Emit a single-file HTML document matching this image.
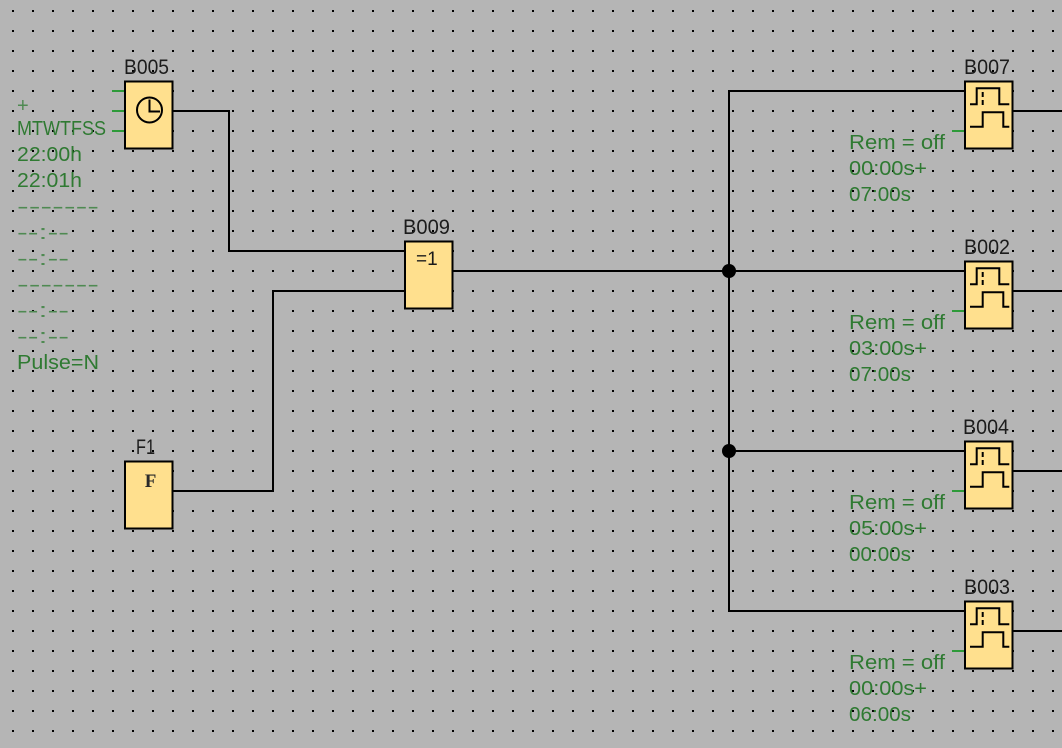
<!DOCTYPE html>
<html>
<head>
<meta charset="utf-8">
<style>
  html, body { margin: 0; padding: 0; background: #b5b5b5; }
  svg { display: block; }
  .g { font-family: "Liberation Sans", sans-serif; font-size: 20px; fill: #2f7a32; }
  .gl { font-family: "Liberation Sans", sans-serif; font-size: 20px; fill: #4f8a52; }
  .lb { font-family: "Liberation Sans", sans-serif; font-size: 21px; fill: #1c1c1c; }
</style>
</head>
<body>
<svg width="1062" height="748" viewBox="0 0 1062 748" xmlns="http://www.w3.org/2000/svg">
  <defs>
    <pattern id="grid" x="12" y="10" width="20" height="20" patternUnits="userSpaceOnUse">
      <rect x="0" y="0" width="2" height="2" fill="#000"/>
    </pattern>
  </defs>
  <rect x="0" y="0" width="1062" height="748" fill="#b5b5b5"/>
  <rect x="0" y="0" width="1062" height="748" fill="url(#grid)"/>

  <!-- wires -->
  <g fill="none" stroke="#000" stroke-width="2">
    <polyline points="173,111 229,111 229,251 405,251"/>
    <polyline points="173,491 273,491 273,291 405,291"/>
    <line x1="453" y1="271" x2="965" y2="271"/>
    <polyline points="965,91 729,91 729,611 965,611"/>
    <line x1="729" y1="451" x2="965" y2="451"/>
    <line x1="1013" y1="111" x2="1062" y2="111"/>
    <line x1="1013" y1="291" x2="1062" y2="291"/>
    <line x1="1013" y1="471" x2="1062" y2="471"/>
    <line x1="1013" y1="631" x2="1062" y2="631"/>
  </g>
  <circle cx="729" cy="271" r="7" fill="#000"/>
  <circle cx="729" cy="451" r="7" fill="#000"/>

  <!-- green input stubs -->
  <g stroke="#2e9a3a" stroke-width="2">
    <line x1="112" y1="91" x2="125" y2="91"/>
    <line x1="112" y1="111" x2="125" y2="111"/>
    <line x1="112" y1="131" x2="125" y2="131"/>
    <line x1="952" y1="131" x2="965" y2="131"/>
    <line x1="952" y1="311" x2="965" y2="311"/>
    <line x1="952" y1="491" x2="965" y2="491"/>
    <line x1="952" y1="651" x2="965" y2="651"/>
  </g>

  <!-- blocks -->
  <g fill="#ffe08e" stroke="#000" stroke-width="2">
    <rect x="125" y="81.5" width="47.5" height="67"/>
    <rect x="405" y="241.5" width="47.5" height="67"/>
    <rect x="125" y="461.5" width="47.5" height="67"/>
    <rect x="965" y="81.5" width="47.5" height="67"/>
    <rect x="965" y="261.5" width="47.5" height="67"/>
    <rect x="965" y="441.5" width="47.5" height="67"/>
    <rect x="965" y="601.5" width="47.5" height="67"/>
  </g>

  <!-- clock icon -->
  <circle cx="149.5" cy="110" r="12.5" fill="none" stroke="#000" stroke-width="2"/>
  <polyline points="149.5,99.5 149.5,111.5 160,111.5" fill="none" stroke="#000" stroke-width="2"/>

  <!-- =1 -->
  <text x="416" y="265" font-family="Liberation Sans, sans-serif" font-size="19" fill="#1a1a1a">=1</text>
  <!-- F -->
  <text x="150.5" y="487" text-anchor="middle" font-family="Liberation Serif, serif" font-weight="bold" font-size="19" fill="#2a2a2a">F</text>

  <!-- timer icons -->
  <g fill="none" stroke="#000" stroke-width="2">
    <g transform="translate(0,80)">
      <polyline points="970,24.3 976.7,24.3 976.7,8.3 999.3,8.3 999.3,24.3 1009.3,24.3"/>
      <polyline points="970,46.7 982.7,46.7 982.7,32.3 1003.3,32.3 1003.3,46.7 1009.3,46.7"/>
      <line x1="982.7" y1="12" x2="982.7" y2="17"/><line x1="982.7" y1="20" x2="982.7" y2="25"/>
    </g>
    <g transform="translate(0,260)">
      <polyline points="970,24.3 976.7,24.3 976.7,8.3 999.3,8.3 999.3,24.3 1009.3,24.3"/>
      <polyline points="970,46.7 982.7,46.7 982.7,32.3 1003.3,32.3 1003.3,46.7 1009.3,46.7"/>
      <line x1="982.7" y1="12" x2="982.7" y2="17"/><line x1="982.7" y1="20" x2="982.7" y2="25"/>
    </g>
    <g transform="translate(0,440)">
      <polyline points="970,24.3 976.7,24.3 976.7,8.3 999.3,8.3 999.3,24.3 1009.3,24.3"/>
      <polyline points="970,46.7 982.7,46.7 982.7,32.3 1003.3,32.3 1003.3,46.7 1009.3,46.7"/>
      <line x1="982.7" y1="12" x2="982.7" y2="17"/><line x1="982.7" y1="20" x2="982.7" y2="25"/>
    </g>
    <g transform="translate(0,600)">
      <polyline points="970,24.3 976.7,24.3 976.7,8.3 999.3,8.3 999.3,24.3 1009.3,24.3"/>
      <polyline points="970,46.7 982.7,46.7 982.7,32.3 1003.3,32.3 1003.3,46.7 1009.3,46.7"/>
      <line x1="982.7" y1="12" x2="982.7" y2="17"/><line x1="982.7" y1="20" x2="982.7" y2="25"/>
    </g>
  </g>

  <!-- block labels -->
  <text class="lb" x="124" y="74" textLength="45" lengthAdjust="spacingAndGlyphs">B005</text>
  <text class="lb" x="403" y="234" textLength="47" lengthAdjust="spacingAndGlyphs">B009</text>
  <text class="lb" x="136" y="454" textLength="19" lengthAdjust="spacingAndGlyphs">F1</text>
  <text class="lb" x="964" y="74" textLength="46" lengthAdjust="spacingAndGlyphs">B007</text>
  <text class="lb" x="964" y="254" textLength="46" lengthAdjust="spacingAndGlyphs">B002</text>
  <text class="lb" x="963" y="434" textLength="46" lengthAdjust="spacingAndGlyphs">B004</text>
  <text class="lb" x="964" y="594" textLength="46" lengthAdjust="spacingAndGlyphs">B003</text>

  <!-- left parameter text -->
  <text class="gl" x="17" y="112">+</text>
  <text class="g" x="17" y="135" textLength="89" lengthAdjust="spacingAndGlyphs">MTWTFSS</text>
  <text class="g" x="17" y="161" textLength="65" lengthAdjust="spacingAndGlyphs">22:00h</text>
  <text class="g" x="17" y="187" textLength="65" lengthAdjust="spacingAndGlyphs">22:01h</text>
  <text class="gl" x="17" y="213" textLength="82" lengthAdjust="spacingAndGlyphs">-------</text>
  <text class="gl" x="17" y="239" textLength="52" lengthAdjust="spacingAndGlyphs">--:--</text>
  <text class="gl" x="17" y="265" textLength="52" lengthAdjust="spacingAndGlyphs">--:--</text>
  <text class="gl" x="17" y="291" textLength="82" lengthAdjust="spacingAndGlyphs">-------</text>
  <text class="gl" x="17" y="317" textLength="52" lengthAdjust="spacingAndGlyphs">--:--</text>
  <text class="gl" x="17" y="343" textLength="52" lengthAdjust="spacingAndGlyphs">--:--</text>
  <text class="g" x="17" y="369" textLength="82" lengthAdjust="spacingAndGlyphs">Pulse=N</text>

  <!-- timer parameter text -->
  <text class="g" x="849" y="149" textLength="96" lengthAdjust="spacingAndGlyphs">Rem = off</text>
  <text class="g" x="849" y="175" textLength="78" lengthAdjust="spacingAndGlyphs">00:00s+</text>
  <text class="g" x="849" y="201" textLength="62" lengthAdjust="spacingAndGlyphs">07:00s</text>

  <text class="g" x="849" y="329" textLength="96" lengthAdjust="spacingAndGlyphs">Rem = off</text>
  <text class="g" x="849" y="355" textLength="78" lengthAdjust="spacingAndGlyphs">03:00s+</text>
  <text class="g" x="849" y="381" textLength="62" lengthAdjust="spacingAndGlyphs">07:00s</text>

  <text class="g" x="849" y="509" textLength="96" lengthAdjust="spacingAndGlyphs">Rem = off</text>
  <text class="g" x="849" y="535" textLength="78" lengthAdjust="spacingAndGlyphs">05:00s+</text>
  <text class="g" x="849" y="561" textLength="62" lengthAdjust="spacingAndGlyphs">00:00s</text>

  <text class="g" x="849" y="669" textLength="96" lengthAdjust="spacingAndGlyphs">Rem = off</text>
  <text class="g" x="849" y="695" textLength="78" lengthAdjust="spacingAndGlyphs">00:00s+</text>
  <text class="g" x="849" y="721" textLength="62" lengthAdjust="spacingAndGlyphs">06:00s</text>
</svg>
</body>
</html>
